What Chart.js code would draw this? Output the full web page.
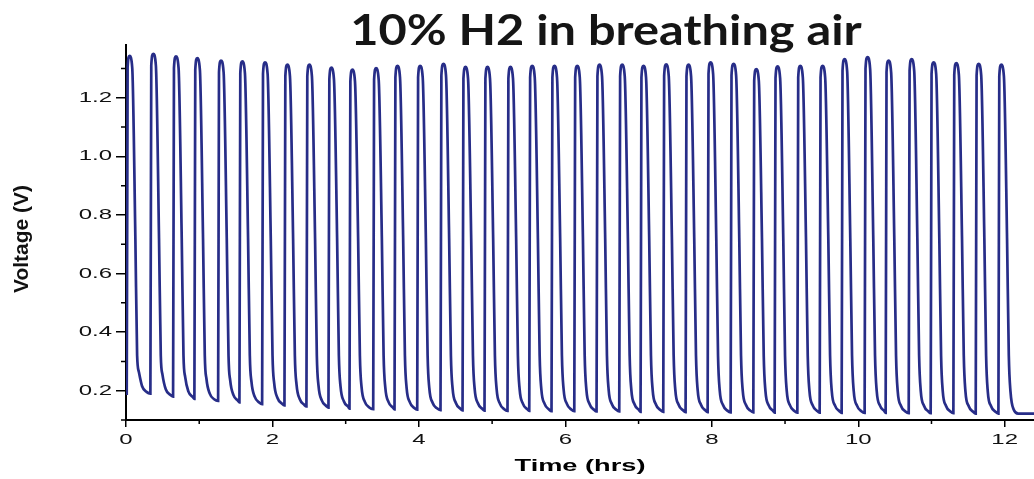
<!DOCTYPE html>
<html>
<head>
<meta charset="utf-8">
<script src="https://cdn.jsdelivr.net/npm/chart.js@4.4.1/dist/chart.umd.min.js"></script>
<style>
body{margin:0;background:#fff;}
#wrap{width:1034px;height:479px;}
</style>
</head>
<body>
<div id="wrap"><canvas id="chart_volt" width="1034" height="479"></canvas></div>
<script>
var chartTitle="10% H2 in breathing air";
var xTitle="Time (hrs)";
var yTitle="Voltage (V)";
var timeTicks=[0,2,4,6,8,10,12];
var timeMinor=[1,3,5,7,9,11];
var voltTicks=[0.2,0.4,0.6,0.8,1.0,1.2];
var voltMinor=[0.1,0.3,0.5,0.7,0.9,1.1,1.3];

// one pulse per line
var timeHrs=[0,
 0.010,0.022,0.048,0.085,0.128,0.152,0.175,0.220,0.280,
 0.333,0.345,0.371,0.408,0.451,0.475,0.498,0.543,0.603,
 0.643,0.655,0.681,0.718,0.761,0.785,0.808,0.853,0.913,
 0.934,0.946,0.972,1.009,1.052,1.076,1.099,1.144,1.204,
 1.258,1.270,1.296,1.333,1.376,1.400,1.423,1.468,1.528,
 1.549,1.561,1.587,1.624,1.667,1.691,1.714,1.759,1.819,
 1.859,1.871,1.897,1.934,1.977,2.001,2.024,2.069,2.129,
 2.164,2.176,2.202,2.239,2.282,2.306,2.329,2.374,2.434,
 2.464,2.476,2.502,2.539,2.582,2.606,2.629,2.674,2.734,
 2.765,2.777,2.803,2.840,2.883,2.907,2.930,2.975,3.035,
 3.052,3.064,3.090,3.127,3.170,3.194,3.217,3.262,3.322,
 3.376,3.388,3.414,3.451,3.494,3.518,3.541,3.586,3.646,
 3.667,3.679,3.705,3.742,3.785,3.809,3.832,3.877,3.937,
 3.977,3.989,4.015,4.052,4.095,4.119,4.142,4.187,4.247,
 4.295,4.307,4.333,4.370,4.413,4.437,4.460,4.505,4.565,
 4.596,4.608,4.634,4.671,4.714,4.738,4.761,4.806,4.866,
 4.896,4.908,4.934,4.971,5.014,5.038,5.061,5.106,5.166,
 5.210,5.222,5.248,5.285,5.328,5.352,5.375,5.420,5.480,
 5.507,5.519,5.545,5.582,5.625,5.649,5.672,5.717,5.777,
 5.811,5.823,5.849,5.886,5.929,5.953,5.976,6.021,6.081,
 6.122,6.134,6.160,6.197,6.240,6.264,6.287,6.332,6.392,
 6.426,6.438,6.464,6.501,6.544,6.568,6.591,6.636,6.696,
 6.736,6.748,6.774,6.811,6.854,6.878,6.901,6.946,7.006,
 7.027,7.039,7.065,7.102,7.145,7.169,7.192,7.237,7.297,
 7.337,7.349,7.375,7.412,7.455,7.479,7.502,7.547,7.607,
 7.642,7.654,7.680,7.717,7.760,7.784,7.807,7.852,7.912,
 7.943,7.955,7.981,8.018,8.061,8.085,8.108,8.153,8.213,
 8.257,8.269,8.295,8.332,8.375,8.399,8.422,8.467,8.527,
 8.567,8.579,8.605,8.642,8.685,8.709,8.732,8.777,8.837,
 8.858,8.870,8.896,8.933,8.976,9.000,9.023,9.068,9.128,
 9.168,9.180,9.206,9.243,9.286,9.310,9.333,9.378,9.438,
 9.473,9.485,9.511,9.548,9.591,9.615,9.638,9.683,9.743,
 9.773,9.785,9.811,9.848,9.891,9.915,9.938,9.983,10.043,
 10.087,10.099,10.125,10.162,10.205,10.229,10.252,10.297,10.357,
 10.374,10.386,10.412,10.449,10.492,10.516,10.539,10.584,10.644,
 10.689,10.701,10.727,10.764,10.807,10.831,10.854,10.899,10.959,
 10.989,11.001,11.027,11.064,11.107,11.131,11.154,11.199,11.259,
 11.299,11.311,11.337,11.374,11.417,11.441,11.464,11.509,11.569,
 11.604,11.616,11.642,11.679,11.722,11.746,11.769,11.814,11.874,
 11.914,11.926,11.952,11.989,12.032,12.056,12.079,12.124,12.184,
 12.40];

var voltage=[0.190,
 0.190,1.303,1.343,1.303,0.72,0.32,0.265,0.215,0.196,
 0.190,1.310,1.350,1.310,0.72,0.32,0.255,0.205,0.186,
 0.180,1.301,1.341,1.301,0.72,0.32,0.247,0.197,0.178,
 0.172,1.295,1.335,1.295,0.72,0.32,0.240,0.190,0.171,
 0.165,1.287,1.327,1.287,0.72,0.32,0.235,0.185,0.166,
 0.160,1.284,1.324,1.284,0.72,0.32,0.229,0.179,0.160,
 0.154,1.281,1.321,1.281,0.72,0.32,0.225,0.175,0.156,
 0.150,1.273,1.313,1.273,0.72,0.32,0.221,0.171,0.152,
 0.146,1.273,1.313,1.273,0.72,0.32,0.217,0.167,0.148,
 0.142,1.263,1.303,1.263,0.72,0.32,0.214,0.164,0.145,
 0.139,1.256,1.296,1.256,0.72,0.32,0.212,0.162,0.143,
 0.137,1.261,1.301,1.261,0.72,0.32,0.211,0.161,0.142,
 0.136,1.269,1.309,1.269,0.72,0.32,0.210,0.160,0.141,
 0.135,1.269,1.309,1.269,0.72,0.32,0.209,0.159,0.140,
 0.134,1.276,1.316,1.276,0.72,0.32,0.208,0.158,0.139,
 0.133,1.265,1.305,1.265,0.72,0.32,0.207,0.157,0.138,
 0.132,1.265,1.305,1.265,0.72,0.32,0.206,0.156,0.137,
 0.131,1.265,1.305,1.265,0.72,0.32,0.206,0.156,0.137,
 0.131,1.269,1.309,1.269,0.72,0.32,0.205,0.155,0.136,
 0.130,1.269,1.309,1.269,0.72,0.32,0.205,0.155,0.136,
 0.130,1.269,1.309,1.269,0.72,0.32,0.204,0.154,0.135,
 0.129,1.273,1.313,1.273,0.72,0.32,0.204,0.154,0.135,
 0.129,1.273,1.313,1.273,0.72,0.32,0.203,0.153,0.134,
 0.128,1.269,1.309,1.269,0.72,0.32,0.203,0.153,0.134,
 0.128,1.274,1.314,1.274,0.72,0.32,0.202,0.152,0.133,
 0.127,1.273,1.313,1.273,0.72,0.32,0.202,0.152,0.133,
 0.127,1.281,1.321,1.281,0.72,0.32,0.201,0.151,0.132,
 0.126,1.276,1.316,1.276,0.72,0.32,0.201,0.151,0.132,
 0.126,1.258,1.298,1.258,0.72,0.32,0.200,0.150,0.131,
 0.125,1.267,1.307,1.267,0.72,0.32,0.200,0.150,0.131,
 0.125,1.269,1.309,1.269,0.72,0.32,0.200,0.150,0.131,
 0.125,1.269,1.309,1.269,0.72,0.32,0.199,0.149,0.130,
 0.124,1.292,1.332,1.292,0.72,0.32,0.199,0.149,0.130,
 0.124,1.299,1.339,1.299,0.72,0.32,0.199,0.149,0.130,
 0.124,1.287,1.327,1.287,0.72,0.32,0.198,0.148,0.129,
 0.123,1.292,1.332,1.292,0.72,0.32,0.198,0.148,0.129,
 0.123,1.281,1.321,1.281,0.72,0.32,0.198,0.148,0.129,
 0.123,1.278,1.318,1.278,0.72,0.32,0.197,0.147,0.128,
 0.122,1.276,1.316,1.276,0.72,0.32,0.197,0.147,0.128,
 0.122,1.273,1.313,1.273,0.72,0.32,0.197,0.135,0.122,
 0.122];

var points=timeHrs.map(function(t,i){return {x:t,y:voltage[i]};});

// the source figure is stretched sideways, so axis texts are drawn wide
var wideText={
 id:'wideText',
 beforeInit:function(chart){
  var ctx=chart.ctx,orig=ctx.fillText;
  ctx.plainFillText=orig;
  ctx.fillText=function(t,x,y){
   this.save();
   this.translate(x,y);
   this.scale(1.6,1);
   orig.call(this,t,0,0);
   this.restore();
  };
 }
};

// minor ticks, big title, rotated y label
var extras={
 id:'extras',
 afterDraw:function(chart){
  var ctx=chart.ctx,a=chart.chartArea,xs=chart.scales.x,ys=chart.scales.y;
  ctx.save();
  ctx.strokeStyle='#000';
  ctx.lineWidth=1.5;
  ctx.beginPath();
  voltMinor.forEach(function(v){
   var p=ys.getPixelForValue(v);
   ctx.moveTo(a.left-5,p);ctx.lineTo(a.left,p);
  });
  timeMinor.forEach(function(t){
   var p=xs.getPixelForValue(t);
   ctx.moveTo(p,a.bottom);ctx.lineTo(p,a.bottom+4);
  });
  ctx.stroke();
  ctx.fillStyle='#151515';
  ctx.font="bold 42px Lato";
  ctx.textAlign='center';
  ctx.textBaseline='alphabetic';
  ctx.save();
  ctx.translate(606,45);
  ctx.scale(1.16,1);
  ctx.plainFillText.call(ctx,chartTitle,0,0);
  ctx.restore();
  ctx.translate(22,239);
  ctx.rotate(-Math.PI/2);
  ctx.font="bold 21px 'Liberation Sans'";
  ctx.textBaseline='middle';
  ctx.fillStyle='#111';
  ctx.plainFillText.call(ctx,yTitle,0,0);
  ctx.restore();
 }
};

var chart_obj=new Chart(document.getElementById("chart_volt"),{
 type:'line',
 data:{
  datasets:[{
   label:yTitle,
   data:points,
   borderColor:'#272d88',
   borderWidth:2.7,
   pointRadius:0,
   fill:false,
   cubicInterpolationMode:'monotone'
  }]
 },
 options:{
  responsive:false,
  animation:false,
  layout:{padding:{top:45,right:0,left:0,bottom:0}},
  plugins:{legend:{display:false},tooltip:{enabled:false},title:{display:false}},
  scales:{
   x:{
    type:'linear',
    min:0,
    max:12.4,
    afterBuildTicks:function(scale){scale.ticks=timeTicks.map(function(v){return {value:v};});},
    afterFit:function(scale){scale.height=59;},
    border:{display:true,color:'#000',width:2},
    grid:{drawOnChartArea:false,drawTicks:true,tickLength:7,color:'#000',lineWidth:1.5},
    ticks:{color:'#111',padding:4,maxRotation:0,font:{family:'Liberation Sans',size:15},
     callback:function(v){return String(v);}},
    title:{display:true,text:xTitle,color:'#000',padding:{top:2,bottom:2},
     font:{family:'Liberation Sans',size:17,weight:'bold'}}
   },
   y:{
    min:0.1,
    max:1.38,
    afterBuildTicks:function(scale){scale.ticks=voltTicks.map(function(v){return {value:v};});},
    afterFit:function(scale){scale.width=126;},
    border:{display:true,color:'#000',width:2},
    grid:{drawOnChartArea:false,drawTicks:true,tickLength:10,color:'#000',lineWidth:1.5},
    ticks:{color:'#111',padding:4,font:{family:'Liberation Sans',size:15},
     callback:function(v){return v.toFixed(1);}}
   }
  }
 },
 plugins:[wideText,extras]
});
</script>
</body>
</html>
